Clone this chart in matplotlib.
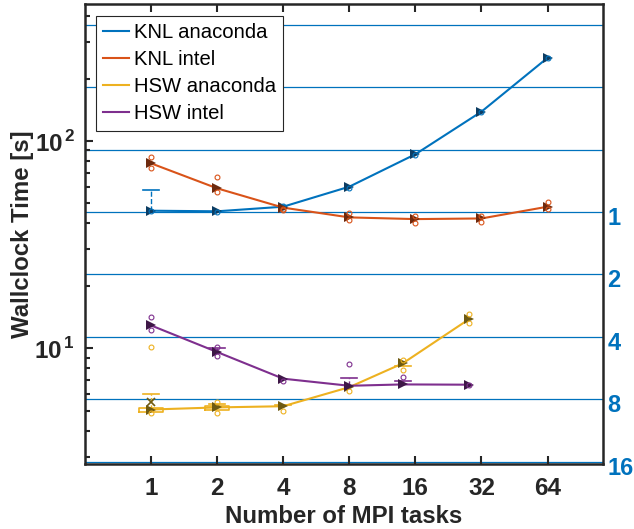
import matplotlib
matplotlib.use('Agg')
import matplotlib.pyplot as plt
import matplotlib.transforms as mtransforms
from matplotlib.ticker import FixedLocator, NullFormatter, NullLocator

plt.rcParams['font.family'] = ['Liberation Sans', 'DejaVu Sans']
plt.rcParams['mathtext.fontset'] = 'custom'
plt.rcParams['mathtext.rm'] = 'Liberation Sans'
plt.rcParams['mathtext.bf'] = 'Liberation Sans:bold'

# data
knl_tasks = [1, 2, 4, 8, 16, 32, 64]
hsw_tasks = [1, 2, 4, 8, 14, 28]

knl_anaconda = [46.1, 45.8, 48.2, 60.2, 86.3, 138.5, 251.8]
knl_intel = [78.0, 59.1, 47.7, 42.8, 42.0, 42.3, 48.2]
hsw_anaconda = [5.07, 5.19, 5.26, 6.50, 8.46, 13.8]
hsw_intel = [12.9, 9.6, 7.14, 6.60, 6.70, 6.68]

# single runs (small circles)
knl_anaconda_runs = [[46.0], [45.6], [47.8, 48.6], [59.5], [85.8], [138.0], [252.0]]
knl_intel_runs = [[84.0, 73.8], [67.0, 56.5], [46.5, 47.2], [44.7, 41.5],
                  [43.7, 40.4], [43.5, 40.8], [50.9, 47.0]]
hsw_anaconda_runs = [[10.1, 4.87], [5.5, 4.9], [5.0], [6.2], [8.75, 7.9], [14.6, 13.2]]
hsw_intel_runs = [[14.1, 12.2], [10.1, 9.2], [6.98], [8.37], [7.3], [6.68]]

# whisker caps (task, value) and boxes (task, low, high)
knl_anaconda_caps = [(1, 58.0)]
hsw_anaconda_caps = [(1, 6.01), (2, 5.42), (4, 5.36), (14, 8.18)]
hsw_intel_caps = [(2, 10.0), (8, 7.19), (14, 6.94)]
hsw_anaconda_boxes = [(1, 4.92, 5.14), (2, 5.05, 5.28)]

t_ref = 45.45  # ideal scaling reference (KNL anaconda, 1 task)
speedups = [1, 2, 4, 8, 16]

blue = '#0072BD'
orange = '#D95319'
yellow = '#EDB120'
purple = '#7E2F8E'
dark = {blue: '#0d3d63', orange: '#6e2a0e', yellow: '#6e5a12', purple: '#3e1747'}

fig = plt.figure(figsize=(6.34, 5.29), dpi=100)
ax = fig.add_axes([0.134, 0.1223, 0.8165, 0.8692])
ax.set_xscale('log', base=2)
ax.set_yscale('log')

# ideal scaling lines
for k in [-4, -3, -2, -1, 0, 1, 2, 3]:
    ax.axhline(t_ref * 2.0 ** k, color=blue, lw=0.9, zorder=1)

series = [
    ('KNL anaconda', knl_tasks, knl_anaconda, knl_anaconda_runs, blue),
    ('KNL intel', knl_tasks, knl_intel, knl_intel_runs, orange),
    ('HSW anaconda', hsw_tasks, hsw_anaconda, hsw_anaconda_runs, yellow),
    ('HSW intel', hsw_tasks, hsw_intel, hsw_intel_runs, purple),
]

handles = []
for name, xs, ys, runs, col in series:
    h, = ax.plot(xs, ys, '-', color=col, lw=1.5, zorder=3, label=name)
    ax.plot(xs, ys, '>', color=dark[col], ms=7, mew=0, ls='none', zorder=4)
    for x, rr in zip(xs, runs):
        ax.plot([x] * len(rr), rr, 'o', mfc='none', mec=col, ms=3.5, mew=0.8,
                ls='none', zorder=4)
    handles.append(h)

def draw_caps(caps, vals, xs, col):
    for x, c in caps:
        v = vals[xs.index(x)]
        ax.plot([x, x], [v, c], color=col, lw=1.0, ls='--', zorder=2)
        ax.plot([x * 2 ** -0.12, x * 2 ** 0.12], [c, c], color=col, lw=1.2, zorder=2)

draw_caps(knl_anaconda_caps, knl_anaconda, knl_tasks, blue)
draw_caps(hsw_anaconda_caps, hsw_anaconda, hsw_tasks, yellow)
draw_caps(hsw_intel_caps, hsw_intel, hsw_tasks, purple)
for x, lo, hi in hsw_anaconda_boxes:
    x0, x1 = x * 2 ** -0.18, x * 2 ** 0.18
    ax.plot([x0, x1, x1, x0, x0], [lo, lo, hi, hi, lo], color=yellow, lw=1.2, zorder=2)
ax.plot([1], [5.5], 'x', color=dark[yellow], ms=6, mew=1.2, zorder=4)

ylo, yhi = 2.76, 455.0
ax.set_xlim(0.5, 114)
ax.set_ylim(ylo, yhi)

ax.xaxis.set_major_locator(FixedLocator(knl_tasks))
ax.xaxis.set_minor_locator(NullLocator())
ax.set_xticklabels([str(t) for t in knl_tasks])
ax.yaxis.set_major_locator(FixedLocator([10, 100]))
ax.set_yticklabels([r'$\mathbf{10}^{\,\mathbf{1}}$', r'$\mathbf{10}^{\,\mathbf{2}}$'])
ax.yaxis.set_minor_locator(FixedLocator([3, 4, 5, 6, 7, 8, 9, 20, 30, 40, 50, 60, 70,
                                         80, 90, 200, 300, 400]))
ax.yaxis.set_minor_formatter(NullFormatter())

tc = '#262626'
ax.tick_params(which='both', direction='in', top=True, right=True, width=1.5,
               color=tc, labelcolor=tc, labelsize=17.5)
ax.tick_params(which='major', length=6)
ax.tick_params(which='minor', length=3.5)
ax.tick_params(axis='x', pad=9)
ax.tick_params(axis='y', pad=7)
for lab in ax.get_xticklabels() + ax.get_yticklabels():
    lab.set_fontweight('bold')
for s in ax.spines.values():
    s.set_linewidth(1.8)
    s.set_color(tc)

ax.set_xlabel('Number of MPI tasks', fontsize=17.3, fontweight='bold', color=tc, labelpad=4)
ax.set_ylabel('Wallclock Time [s]', fontsize=17.3, fontweight='bold', color=tc, labelpad=0)

# right axis: speedup relative to reference
ax2 = ax.twinx()
ax2.set_yscale('log')
ax2.set_ylim(t_ref / ylo, t_ref / yhi)
ax2.yaxis.set_major_locator(FixedLocator(speedups))
ax2.yaxis.set_minor_locator(NullLocator())
ax2.set_yticklabels([str(s) for s in speedups])
ax2.tick_params(axis='y', length=0, pad=3.5, labelsize=17, labelcolor=blue)
for s in ax2.spines.values():
    s.set_visible(False)
off = mtransforms.ScaledTranslation(0, -0.04, fig.dpi_scale_trans)
for lab in ax2.get_yticklabels():
    lab.set_fontweight('bold')
    lab.set_transform(lab.get_transform() + off)

leg = ax.legend(handles=handles, loc='upper left', bbox_to_anchor=(0.0207, 0.975),
                borderaxespad=0, fontsize=14.6, handlelength=1.3, handletextpad=0.25,
                labelspacing=0.4, borderpad=0.35, fancybox=False, framealpha=1)
leg.get_frame().set_edgecolor(tc)
leg.get_frame().set_linewidth(0.8)
leg.set_zorder(10)

fig.savefig('out.png', dpi=100)
